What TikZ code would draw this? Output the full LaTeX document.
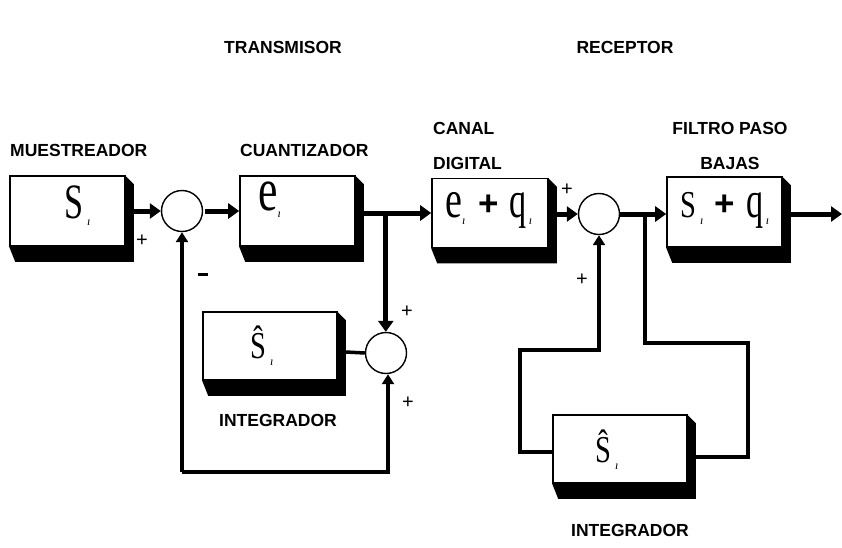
\documentclass[tikz,border=0pt]{standalone}
\usepackage{fontspec}
\usepackage{graphicx}
\setmainfont{Liberation Serif}
\newfontfamily\lab{Liberation Sans}
\usetikzlibrary{arrows.meta,calc,backgrounds}
\newcommand\mfont{\fontsize{38}{38}\selectfont}
\newcommand\gS{\scalebox{0.75}[1]{S}}
\newcommand\gSb{\scalebox{0.9}[1.3]{S}}
\newcommand\gE{\scalebox{1}[1.4]{e}}
\newcommand\gEb{\scalebox{1.15}[1.6]{e}}
\newcommand\gQ{\scalebox{0.9}[1.35]{q}}
\newcommand\gSh{\scalebox{0.75}[1]{Ŝ}}
\newcommand\isub{\raisebox{-7pt}{\fontsize{12}{12}\selectfont\itshape ı}}
\newcommand\bplus{\raisebox{2pt}{\lab\bfseries\fontsize{35}{35}\selectfont +}}
\newcommand\boxshade[1]{\fill ($(#1.north east)+(0,1)$) -- ($(#1.north east)+(8,9)$) -- ($(#1.south east)+(8,15)$) -- ($(#1.south west)+(6,15)$) -- (#1.south west) -- cycle;}
\begin{document}
\begin{tikzpicture}[x=1pt,y=-1pt,
  box/.style={draw,line width=1.6pt,fill=white,inner sep=0pt},
  sum/.style={circle,draw,line width=1.4pt,fill=white,minimum size=41pt,inner sep=0pt},
  sig/.style={line width=5pt,-{Triangle[length=11pt,width=15pt]}},
  fb/.style={line width=3.5pt},
  fba/.style={line width=3.5pt,-{Triangle[length=10pt,width=12pt]}},
  lbl/.style={font=\lab\bfseries\fontsize{17.5}{17.5}\selectfont,inner sep=0pt},
  pm/.style={font=\lab\fontsize{20}{20}\selectfont,inner sep=0pt},
  mth/.style={font=\mfont,inner sep=0pt,anchor=base west}]
\useasboundingbox (0,0) rectangle (842,547);
% titles
\node[lbl] (tt) at (283,47) {TRANSMISOR};
\node[lbl] (tr) at (625,47) {RECEPTOR};
\node[lbl,anchor=west] (lm) at (10,150) {MUESTREADOR};
\node[lbl,anchor=west] (lq) at (240,150) {CUANTIZADOR};
\node[lbl,anchor=west] (lc1) at (433,128) {CANAL};
\node[lbl,anchor=west] (lc2) at (433,163) {DIGITAL};
\node[lbl] (lf1) at (730,128) {FILTRO PASO};
\node[lbl] (lf2) at (730,163) {BAJAS};
\node[lbl] (li1) at (278,420) {INTEGRADOR};
\node[lbl] (li2) at (630,530) {INTEGRADOR};
% blocks
\node[box,minimum width=115pt,minimum height=70pt] (S) at (67.5,211) {};
\node[box,minimum width=115pt,minimum height=70pt] (E) at (297.5,211) {};
\node[box,minimum width=116pt,minimum height=69pt] (C) at (490,213) {};
\node[box,minimum width=115pt,minimum height=70pt] (F) at (724.5,212) {};
\node[box,minimum width=134pt,minimum height=68pt] (I1) at (270,346) {};
\node[box,minimum width=134pt,minimum height=68pt] (I2) at (620,449) {};
\begin{scope}[on background layer]
\boxshade{S}\boxshade{E}\boxshade{C}\boxshade{F}\boxshade{I1}\boxshade{I2}
\end{scope}
\node[sum] (c1) at (182,211) {};
\node[sum] (c2) at (599,214) {};
\node[sum] (c3) at (386,353) {};
% block contents
\node[mth] (xS) at (64,218) {\gSb\hspace{4pt}\isub};
\node[mth] (xE) at (258,210) {\gEb\isub};
\node[mth] (xC) at (445,217) {\gE\isub\hspace{13pt}\bplus\hspace{11pt}\gQ\hspace{2pt}\isub};
\node[mth] (xF) at (680,217) {\gS\hspace{4pt}\isub\hspace{11pt}\bplus\hspace{12pt}\gQ\hspace{2pt}\isub};
\node[mth] (xI1) at (250,358) {\gSh\hspace{4pt}\isub};
\node[mth] (xI2) at (595,462) {\gSh\hspace{4pt}\isub};
% forward path
\draw[sig] ($(S.east)+(8,0)$) -- (c1.west);
\draw[sig] ($(c1.east)+(2,0)$) -- (E.west);
\draw[sig] ($(E.east)+(8,2)$) -- (C.west);
\coordinate (b1) at ($(E.east)+(30,2)$);
\draw[sig] (b1) -- (b1 |- c3.north);
\draw[sig] ($(C.east)+(8,1)$) -- (c2.west);
\draw[sig] (c2.east) -- (c2.east -| F.west);
\coordinate (out) at (842,214);
\draw[sig] ($(F.east)+(8,2)$) -- (out);
% transmitter loop
\coordinate (bl) at (182,472);
\draw[fb] ($(I1.west)+(0,8)$) -- ($(I1.west)+(0,8)$ -| bl);
\draw[fba] (bl) -- (c1.south);
\draw[fba] (bl) -| ($(c3.south)+(2,0)$);
\draw[fb] ($(I1.east)+(8,6)$) -- (c3.west);
% receiver loop
\coordinate (b2) at ($(c2.east)+(25,0)$);
\coordinate (r1) at (748,343);
\coordinate (r2) at (748,457);
\draw[fb] (b2) |- (r1) -- (r2) -- ($(I2.east)+(8,8)$);
\coordinate (l1) at (520,350);
\coordinate (l2) at (520,452);
\draw[fba] ($(I2.west)+(0,3)$) -- (l2) -- (l1) -| (c2.south);
% signs
\node[pm] (p1) at (142,241) {+};
\node[pm] (p2) at (203,277) {\rule[0.5ex]{10pt}{2.5pt}};
\node[pm] (p3) at (407,312) {+};
\node[pm] (p4) at (408,403) {+};
\node[pm] (p5) at (567,190) {+};
\node[pm] (p6) at (582,280) {+};
\end{tikzpicture}
\end{document}
